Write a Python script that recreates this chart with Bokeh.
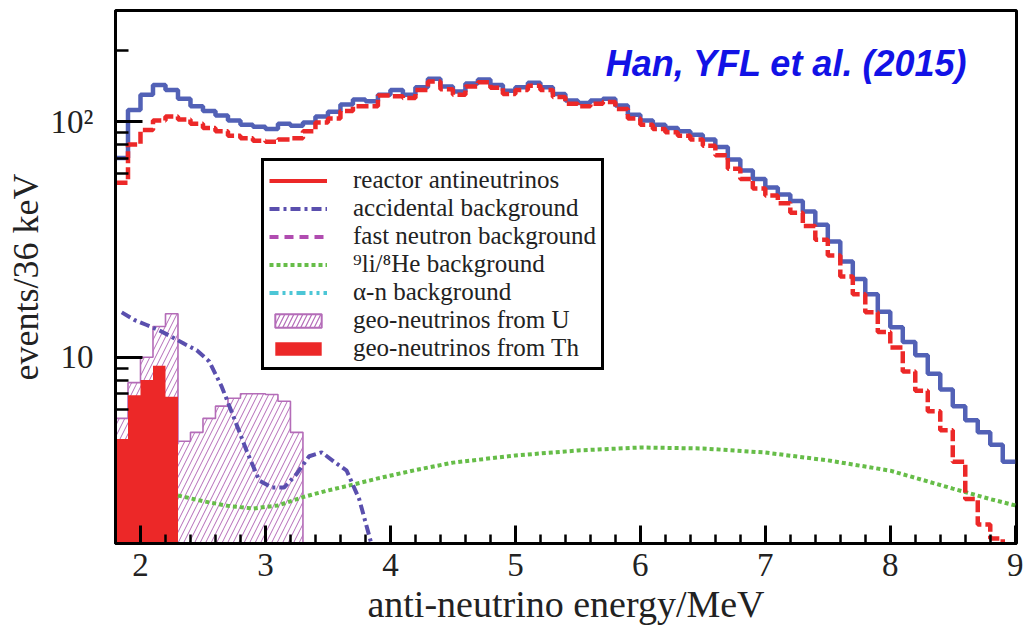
from bokeh.plotting import figure
from bokeh.models import Range1d, FixedTicker, SingleIntervalTicker, Legend, LegendItem, Label
from bokeh.embed import file_html
from bokeh.resources import INLINE

# ---------------- data ----------------
# bin centres, MeV (0.1 MeV bins)
energy = [1.85, 1.95, 2.05, 2.15, 2.25, 2.35, 2.45, 2.55, 2.65, 2.75,
          2.85, 2.95, 3.05, 3.15, 3.25, 3.35, 3.45, 3.55, 3.65, 3.75,
          3.85, 3.95, 4.05, 4.15, 4.25, 4.35, 4.45, 4.55, 4.65, 4.75,
          4.85, 4.95, 5.05, 5.15, 5.25, 5.35, 5.45, 5.55, 5.65, 5.75,
          5.85, 5.95, 6.05, 6.15, 6.25, 6.35, 6.45, 6.55, 6.65, 6.75,
          6.85, 6.95, 7.05, 7.15, 7.25, 7.35, 7.45, 7.55, 7.65, 7.75,
          7.85, 7.95, 8.05, 8.15, 8.25, 8.35, 8.45, 8.55, 8.65, 8.75,
          8.85, 8.95]

# total spectrum (blue)
total = [70, 112, 130, 143, 136, 125, 116, 111, 106, 101,
         97, 95, 93, 98, 96, 99, 105, 110, 118, 124,
         122, 130, 136, 130, 140, 152, 141, 134, 145, 151,
         143, 135, 140, 146, 140, 131, 123, 120, 123, 125,
         117, 107, 101, 97, 94, 91, 88, 84, 78, 69,
         62, 57, 52.5, 49, 46, 41.5, 36.5, 31, 25.5, 21.5,
         18.5, 15.6, 13.4, 11.6, 10.2, 8.5, 7.3, 6.2, 5.4, 4.8,
         4.25, 3.6]

# reactor antineutrinos (red)
reactor = [55, 80, 92, 101, 105, 102, 98, 94, 91, 87,
           85, 83, 82, 84, 85, 91, 99, 103, 111, 116,
           116, 129, 128, 126, 136, 148, 137, 130, 141, 147,
           139, 131, 136, 142, 136, 127, 119, 116, 119, 121,
           113, 103, 97, 93, 90, 87, 84, 79, 72, 63,
           57, 52, 48.5, 45, 41, 36, 31.5, 27, 22, 18.5,
           15.5, 12.8, 11.0, 8.7, 7.2, 5.9, 4.9, 3.6, 2.5, 1.95,
           1.7, 1.2]

# accidental background, first 22 bins (falls below the axis after ~3.9 MeV)
accidental = [15.5, 14.4, 13.7, 13.0, 12.2, 11.4, 10.7, 9.6, 7.5, 5.5,
              4.0, 3.0, 2.8, 2.8, 3.2, 3.8, 3.95, 3.6, 3.3, 2.5,
              1.6, 1.2]

# 9Li/8He background
li_energy = [2.3, 2.5, 2.7, 2.9, 3.1, 3.3, 3.5, 3.7, 3.9, 4.2, 4.5,
             5.0, 5.5, 6.0, 6.5, 7.0, 7.5, 8.0, 8.5, 8.8, 9.0]
li_he = [2.59, 2.45, 2.34, 2.28, 2.35, 2.55, 2.72, 2.88, 3.06, 3.32, 3.57,
         3.83, 4.02, 4.14, 4.10, 3.94, 3.65, 3.30, 2.77, 2.50, 2.35]

# geo-neutrinos, first bins only
geo_u = [5.5, 7.8, 10.0, 13.5, 15.3, 4.4, 4.8, 5.5, 6.2, 6.7,
         7.0, 7.0, 6.95, 6.5, 4.8]
geo_th = [4.5, 6.9, 8.0, 9.2, 6.8]

# fast-neutron and alpha-n backgrounds lie below the displayed range;
# legend samples are placed outside the x range
hidden_x = [0.0, 0.5]
hidden_y = [1.0, 1.0]

# ---------------- styling ----------------
BIN = 0.1
FLOOR = 1.0          # below the visible y range (acts as zero on log axis)
RED = "#ec2828"
BLUE = "#5261b6"
ACC = "#5a4fae"
FAST = "#b04cb0"
GREEN = "#66bd48"
CYAN = "#4cc6d6"
UCOL = "#b46cb8"
SERIF = "Liberation Serif"

edges = [round(e - BIN / 2, 3) for e in energy] + [round(energy[-1] + BIN / 2, 3)]

p = figure(width=1030, height=634,
           x_range=Range1d(1.8, 9.01), y_range=Range1d(1.62, 296),
           y_axis_type="log", output_backend="svg", toolbar_location=None,
           min_border_left=115, min_border_right=14, min_border_top=10,
           min_border_bottom=91)
p.grid.visible = False
p.background_fill_color = "white"
p.border_fill_color = "white"
p.outline_line_color = "black"
p.outline_line_width = 3
p.outline_line_alpha = 1.0

# geo-neutrinos from U (hatched)
nu = len(geo_u)
u_x = edges[:nu + 1]
p.varea_step(x=u_x, y1=[FLOOR] * (nu + 1), y2=geo_u + [geo_u[-1]], step_mode="after",
             fill_color="white", fill_alpha=0.0, hatch_pattern="/", hatch_color=UCOL,
             hatch_scale=11, hatch_weight=1.0)
p.step(x=u_x, y=geo_u + [FLOOR], mode="after", line_color=UCOL, line_width=1.6)

# geo-neutrinos from Th (solid)
nt = len(geo_th)
th_r = p.varea_step(x=edges[:nt + 1], y1=[FLOOR] * (nt + 1), y2=geo_th + [geo_th[-1]],
                    step_mode="after", fill_color=RED)

# 9Li/8He
li_r = p.line(li_energy, li_he, line_color=GREEN, line_width=4, line_dash="4 3")

# accidental
acc_r = p.line(energy[:len(accidental)], accidental, line_color=ACC, line_width=4,
               line_dash="10 4 3 4")

# total and reactor
p.step(x=edges, y=total + [total[-1]], mode="after", line_color=BLUE, line_width=4.5)
p.step(x=edges, y=reactor + [reactor[-1]], mode="after", line_color=RED, line_width=4.5,
       line_dash="12 4")

# legend-only renderers (outside the visible x range)
leg_reactor = p.line(hidden_x, hidden_y, line_color=RED, line_width=4)
leg_fast = p.line(hidden_x, hidden_y, line_color=FAST, line_width=4, line_dash="9 6")
leg_alpha = p.line(hidden_x, hidden_y, line_color=CYAN, line_width=4,
                   line_dash="9 4 3 4 3 4")
leg_u = p.quad(left=[0.0], right=[0.5], top=[1.0], bottom=[0.9], fill_color=None,
               line_color=UCOL, line_width=2, hatch_pattern="/", hatch_color=UCOL,
               hatch_scale=9, hatch_weight=1.2)

legend = Legend(items=[
    LegendItem(label="reactor antineutrinos", renderers=[leg_reactor]),
    LegendItem(label="accidental background", renderers=[acc_r]),
    LegendItem(label="fast neutron background", renderers=[leg_fast]),
    LegendItem(label="\u2079li/\u2078He background", renderers=[li_r]),
    LegendItem(label="\u03b1-n background", renderers=[leg_alpha]),
    LegendItem(label="geo-neutrinos from U", renderers=[leg_u]),
    LegendItem(label="geo-neutrinos from Th", renderers=[th_r]),
], location=(146, 173))
legend.label_text_font = SERIF
legend.label_text_font_size = "25px"
legend.label_text_color = "#222222"
legend.label_height = 22
legend.glyph_height = 17
legend.glyph_width = 58
legend.label_standoff = 26
legend.spacing = 0
legend.padding = 5
legend.border_line_color = "black"
legend.border_line_width = 3
legend.border_line_alpha = 1.0
legend.background_fill_color = "white"
legend.background_fill_alpha = 1.0
p.add_layout(legend)

# reference label
p.add_layout(Label(x=8.62, y=176, text="Han, YFL et al. (2015)", text_align="right",
                   text_baseline="alphabetic", text_font="Liberation Sans",
                   text_font_style="bold italic", text_font_size="36px",
                   text_color="#1212e6"))

# axes
p.xaxis.ticker = SingleIntervalTicker(interval=1, num_minor_ticks=5)
p.yaxis.ticker = FixedTicker(ticks=[10, 100], minor_ticks=[6, 7, 8, 9, 60, 70, 80, 90, 200])
p.yaxis.major_label_overrides = {10: "10", 100: "10\u00b2"}

for ax in (p.xaxis[0], p.yaxis[0]):
    ax.axis_line_width = 3
    ax.axis_line_color = "black"
    ax.major_tick_line_width = 3
    ax.minor_tick_line_width = 2.5
    ax.major_tick_line_color = "black"
    ax.minor_tick_line_color = "black"
    ax.major_tick_out = 0
    ax.minor_tick_out = 0
    ax.major_label_text_font = SERIF
    ax.major_label_text_font_size = "33px"
    ax.major_label_text_color = "#222222"
    ax.axis_label_text_font = SERIF
    ax.axis_label_text_font_style = "normal"
    ax.axis_label_text_color = "#222222"

p.xaxis.axis_label_text_font_size = "38px"
p.yaxis.axis_label_text_font_size = "36px"
p.xaxis.major_tick_in = 18
p.xaxis.minor_tick_in = 9
p.yaxis.major_tick_in = 27
p.yaxis.minor_tick_in = 13
p.xaxis.major_label_standoff = 10
p.yaxis.major_label_standoff = 22
p.xaxis.axis_label_standoff = 4
p.yaxis.axis_label_standoff = 2
p.xaxis.axis_label = "anti-neutrino energy/MeV"
p.yaxis.axis_label = "events/36 keV"

open("out.html", "w").write(file_html(p, INLINE))
